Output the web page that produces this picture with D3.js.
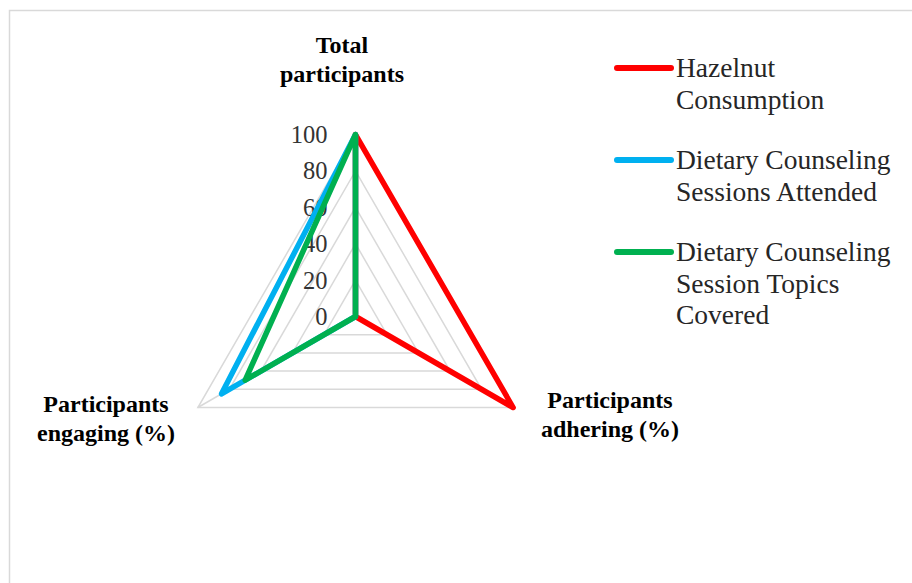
<!DOCTYPE html>
<html>
<head>
<meta charset="utf-8">
<script src="https://cdn.jsdelivr.net/npm/d3@7"></script>
<style>
  html, body { margin: 0; padding: 0; background: #fff; }
  svg { display: block; }
  text { font-family: "Liberation Serif", "Times New Roman", serif; }
</style>
</head>
<body>
<svg id="chart" width="912" height="583"></svg>
<script>
// ---- data ----
const axes = [["Total", "participants"], ["Participants", "adhering (%)"], ["Participants", "engaging (%)"]];
const seriesNames = [["Hazelnut", "Consumption"], ["Dietary Counseling", "Sessions Attended"], ["Dietary Counseling", "Session Topics", "Covered"]];
const hazelnut = [100, 100, 0];
const sessionsAttended = [100, 0, 85];
const topicsCovered = [100, 0, 70];
const tickValues = [0, 20, 40, 60, 80, 100];
const colors = ["#FF0000", "#00B0F0", "#00B050"];

const svg = d3.select("#chart");
const cx = 355.5, cy = 316.5, R = 182;

// border
svg.append("rect").attr("x", 9.5).attr("y", 10.5).attr("width", 1000).attr("height", 1000)
  .attr("fill", "none").attr("stroke", "#d9d9d9").attr("stroke-width", 1.5);

const r = d3.scaleLinear().domain([0, 100]).range([0, R]);
const angle = d3.scalePoint().domain(d3.range(axes.length)).range([0, 2 * Math.PI * (axes.length - 1) / axes.length]);
function pt(i, v) {
  const a = angle(i);
  return [cx + r(v) * Math.sin(a), cy - r(v) * Math.cos(a)];
}

const g = svg.append("g");
// grid polygons
tickValues.filter(t => t > 0).forEach(t => {
  g.append("path")
    .attr("d", d3.line()(axes.map((_, i) => pt(i, t))) + "Z")
    .attr("fill", "none").attr("stroke", "#d9d9d9").attr("stroke-width", 1.5);
});
// spokes
axes.forEach((_, i) => {
  const p = pt(i, 100);
  g.append("line").attr("x1", cx).attr("y1", cy).attr("x2", p[0]).attr("y2", p[1])
    .attr("stroke", "#d9d9d9").attr("stroke-width", 1.5);
});

// tick labels
tickValues.forEach(t => {
  g.append("text").attr("x", cx - 28).attr("y", cy - r(t))
    .attr("dy", "0.35em").attr("text-anchor", "end")
    .attr("font-size", 24.5).attr("fill", "#333").text(t);
});

// series
const allSeries = [hazelnut, sessionsAttended, topicsCovered];
allSeries.forEach((vals, s) => {
  g.append("path")
    .attr("d", d3.line()(vals.map((v, i) => pt(i, v))) + "Z")
    .attr("fill", "none").attr("stroke", colors[s]).attr("stroke-width", 5.5)
    .attr("stroke-linejoin", "round").attr("stroke-linecap", "round");
});

// axis labels
const labelPos = [[342, 53], [610, 408], [106, 412]];
axes.forEach((lines, i) => {
  const t = g.append("text").attr("x", labelPos[i][0]).attr("y", labelPos[i][1])
    .attr("text-anchor", "middle").attr("font-weight", "bold").attr("font-size", 24).attr("fill", "#000");
  lines.forEach((ln, k) => t.append("tspan").attr("x", labelPos[i][0]).attr("dy", k === 0 ? 0 : 29).text(ln));
});

// legend
const legY = [68, 160, 252];
seriesNames.forEach((lines, s) => {
  g.append("line").attr("x1", 617).attr("x2", 671).attr("y1", legY[s]).attr("y2", legY[s])
    .attr("stroke", colors[s]).attr("stroke-width", 6).attr("stroke-linecap", "round");
  const t = g.append("text").attr("x", 676).attr("y", legY[s] + 9)
    .attr("font-size", 27.5).attr("fill", "#262626");
  lines.forEach((ln, k) => t.append("tspan").attr("x", 676).attr("dy", k === 0 ? 0 : 31.5).text(ln));
});
</script>
</body>
</html>
